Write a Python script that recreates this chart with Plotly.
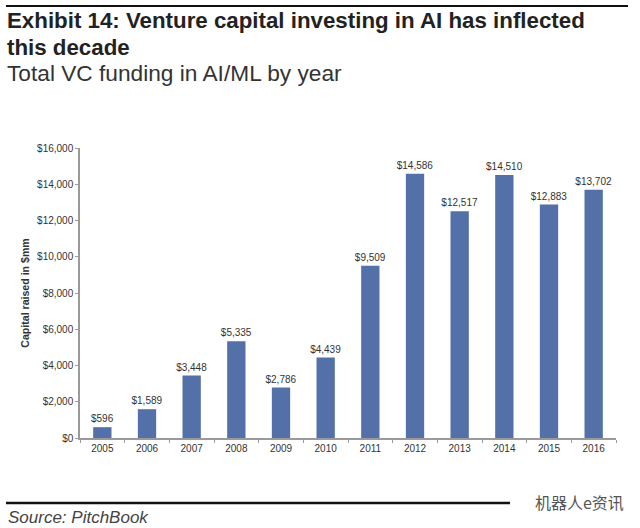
import plotly.graph_objects as go

years = ['2005', '2006', '2007', '2008', '2009', '2010', '2011', '2012', '2013', '2014', '2015', '2016']
capital = [596, 1589, 3448, 5335, 2786, 4439, 9509, 14586, 12517, 14510, 12883, 13702]
y_ticks = [0, 2000, 4000, 6000, 8000, 10000, 12000, 14000, 16000]

W, H = 640, 528
LEFT, RIGHT, TOP, BOTTOM = 80, 24, 148, 90


def dx(x):
    return (x - LEFT) / (W - LEFT - RIGHT)


def dy(y):
    return (H - BOTTOM - y) / (H - TOP - BOTTOM)


fig = go.Figure(go.Bar(
    x=years, y=capital,
    marker=dict(color='#5470a8', line=dict(width=0)),
    width=0.41,
    text=['${:,}'.format(v) for v in capital],
    textposition='outside',
    constraintext='none',
    textfont=dict(family='Liberation Sans', size=10, color='#333333'),
    cliponaxis=False,
))

fig.update_layout(
    width=W, height=H,
    margin=dict(l=LEFT, r=RIGHT, t=TOP, b=BOTTOM),
    paper_bgcolor='white', plot_bgcolor='white',
    showlegend=False,
    font=dict(family='Liberation Sans', color='#333333'),
)
fig.update_xaxes(
    type='category', showgrid=False, showline=True, linecolor='#9a9a9a', linewidth=1.5,
    ticks='outside', tickson='boundaries', ticklen=3, tickcolor='#9a9a9a',
    tickfont=dict(size=10, color='#333333'),
)
fig.update_yaxes(
    range=[0, 16000], tickvals=y_ticks, tickformat='$,.0f',
    showgrid=False, zeroline=False, showline=True, linecolor='#9a9a9a', linewidth=1.5,
    ticks='outside', ticklen=3, tickcolor='#9a9a9a',
    tickfont=dict(size=10, color='#333333'),
    title=dict(text='<b>Capital raised in $mm</b>', font=dict(size=10.6, color='#333333'), standoff=5),
)

# header and footer sit outside the plot area
for text, x, y, size, color, style in [
    ('<b>Exhibit 14: Venture capital investing in AI has inflected</b>', 5, 20, 22.3, '#222222', 'normal'),
    ('<b>this decade</b>', 5, 47, 22.3, '#222222', 'normal'),
    ('Total VC funding in AI/ML by year', 5, 73, 22.7, '#333333', 'normal'),
    ('Source: PitchBook', 6, 517, 17, '#444444', 'italic'),
]:
    fig.add_annotation(
        text=text, xref='x domain', yref='y domain', showarrow=False,
        x=dx(x), y=dy(y), xanchor='left', yanchor='middle',
        font=dict(size=size, color=color, style=style),
    )

for y, x1, lw in [(6, 628, 2), (503, 510, 2.5)]:
    fig.add_shape(type='line', xref='x domain', yref='y domain',
                  x0=dx(6), x1=dx(x1), y0=dy(y), y1=dy(y),
                  line=dict(color='#111111', width=lw))

fig.add_annotation(
    text='机器人e资讯', xref='x domain', yref='y domain', showarrow=False,
    x=dx(626), y=dy(502), xanchor='right', yanchor='middle',
    font=dict(family='Noto Sans CJK SC', size=16, color='#555555'),
)

# drop the page's default body margin so the figure fills the window
fig.write_html('out.html', config={'displayModeBar': False},
               post_script="document.body.style.margin='0';")
